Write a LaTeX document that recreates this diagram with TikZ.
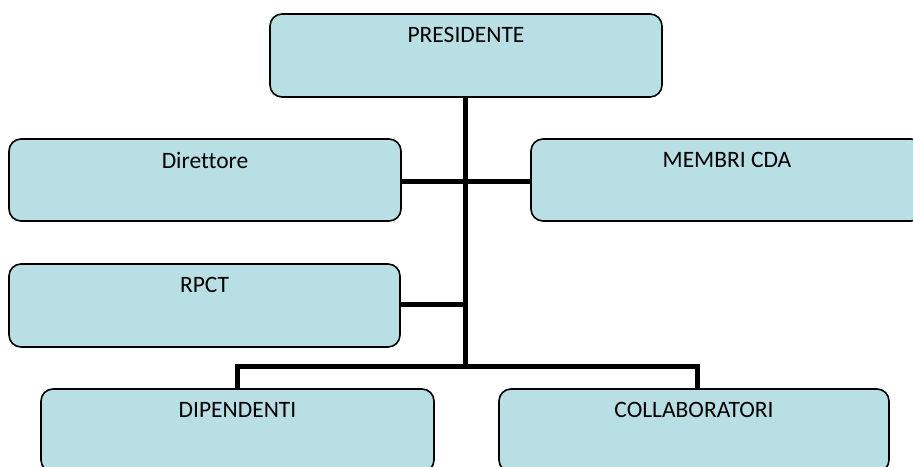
\documentclass[tikz,border=0pt]{standalone}
\usepackage{fontspec}
\setmainfont{Carlito}[Ligatures=NoCommon]
\definecolor{boxfill}{RGB}{184,224,228}
\begin{document}
\begin{tikzpicture}[x=1pt,y=-1pt,
  orgbox/.style={draw=black, line width=1.6pt, fill=boxfill, rounded corners=12pt, inner sep=0pt},
  conn/.style={draw=black, line width=5pt},
  lbl/.style={font=\fontsize{23.5}{28}\selectfont, inner sep=0pt, anchor=north, yshift=-14pt}]
\useasboundingbox (0,0) rectangle (913,466);
\clip (0,0) rectangle (913,466);
\coordinate (trunktop) at (465,97);
\coordinate (bar) at (465,366);
\coordinate (barL) at (237.5,366);
\coordinate (barR) at (697,366);
\coordinate (midD) at (465,181);
\coordinate (midR) at (465,304);
% boxes
\node[orgbox, minimum width=392pt, minimum height=83pt, label={[lbl]north:PRESIDENTE}] (pres) at (466,55.5) {};
\node[orgbox, minimum width=392pt, minimum height=82pt, label={[lbl]north:Direttore}] (dir) at (205,180) {};
\node[orgbox, minimum width=392pt, minimum height=82pt, label={[lbl]north:MEMBRI CDA}] (cda) at (727,180) {};
\node[orgbox, minimum width=391pt, minimum height=83pt, label={[lbl]north:RPCT}] (rpct) at (204.5,305.5) {};
\node[orgbox, minimum width=393pt, minimum height=83pt, label={[lbl]north:DIPENDENTI}] (dip) at (237.5,430.5) {};
\node[orgbox, minimum width=390pt, minimum height=83pt, label={[lbl]north:COLLABORATORI}] (col) at (694,430.5) {};
% connectors
\draw[conn] (trunktop |- pres.south) -- (bar);
\draw[conn] (dir.east |- midD) -- (cda.west |- midD);
\draw[conn] (rpct.east |- midR) -- (midR);
\draw[conn] (barL |- dip.north) -- (barL) -- (barR) -- (barR |- col.north);
\end{tikzpicture}
\end{document}
